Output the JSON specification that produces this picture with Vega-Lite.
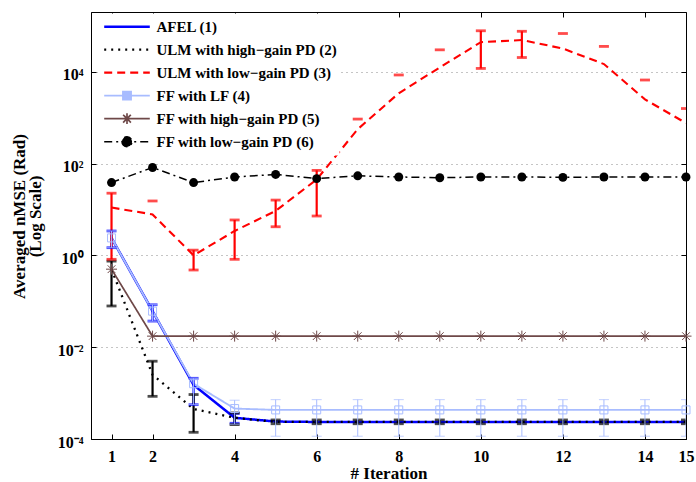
{
  "$schema": "https://vega.github.io/schema/vega-lite/v6.json",
  "width": 595,
  "height": 427,
  "autosize": {"type": "none"},
  "padding": {"left": 91, "top": 12, "right": 10, "bottom": 43},
  "background": "white",
  "config": {
    "font": "Liberation Serif",
    "view": {"stroke": "black", "strokeWidth": 1},
    "axis": {"labelFont": "Liberation Serif", "titleFont": "Liberation Serif", "labelColor": "black", "titleColor": "black", "tickColor": "black", "domainColor": "black"}
  },
  "datasets": {
    "lines": [
      {"s": "AFEL (1)", "x": 1, "y": 2.4}, {"s": "AFEL (1)", "x": 2, "y": 0.061}, {"s": "AFEL (1)", "x": 3, "y": 0.0015}, {"s": "AFEL (1)", "x": 4, "y": 0.00029},
      {"s": "AFEL (1)", "x": 5, "y": 0.00024}, {"s": "AFEL (1)", "x": 6, "y": 0.000235}, {"s": "AFEL (1)", "x": 7, "y": 0.000235}, {"s": "AFEL (1)", "x": 8, "y": 0.000235},
      {"s": "AFEL (1)", "x": 9, "y": 0.000235}, {"s": "AFEL (1)", "x": 10, "y": 0.000235}, {"s": "AFEL (1)", "x": 11, "y": 0.000235}, {"s": "AFEL (1)", "x": 12, "y": 0.000235},
      {"s": "AFEL (1)", "x": 13, "y": 0.000235}, {"s": "AFEL (1)", "x": 14, "y": 0.000235}, {"s": "AFEL (1)", "x": 15, "y": 0.000235},
      {"s": "ULM with high−gain PD (2)", "x": 1, "y": 0.5}, {"s": "ULM with high−gain PD (2)", "x": 2, "y": 0.0025}, {"s": "ULM with high−gain PD (2)", "x": 3, "y": 0.00045}, {"s": "ULM with high−gain PD (2)", "x": 4, "y": 0.00029},
      {"s": "ULM with high−gain PD (2)", "x": 5, "y": 0.000235}, {"s": "ULM with high−gain PD (2)", "x": 6, "y": 0.000235}, {"s": "ULM with high−gain PD (2)", "x": 7, "y": 0.000235}, {"s": "ULM with high−gain PD (2)", "x": 8, "y": 0.000235},
      {"s": "ULM with high−gain PD (2)", "x": 9, "y": 0.000235}, {"s": "ULM with high−gain PD (2)", "x": 10, "y": 0.000235}, {"s": "ULM with high−gain PD (2)", "x": 11, "y": 0.000235}, {"s": "ULM with high−gain PD (2)", "x": 12, "y": 0.000235},
      {"s": "ULM with high−gain PD (2)", "x": 13, "y": 0.000235}, {"s": "ULM with high−gain PD (2)", "x": 14, "y": 0.000235}, {"s": "ULM with high−gain PD (2)", "x": 15, "y": 0.000235},
      {"s": "ULM with low−gain PD (3)", "x": 1, "y": 11}, {"s": "ULM with low−gain PD (3)", "x": 2, "y": 7.8}, {"s": "ULM with low−gain PD (3)", "x": 3, "y": 1.0}, {"s": "ULM with low−gain PD (3)", "x": 4, "y": 3.4},
      {"s": "ULM with low−gain PD (3)", "x": 5, "y": 9.3}, {"s": "ULM with low−gain PD (3)", "x": 6, "y": 45}, {"s": "ULM with low−gain PD (3)", "x": 7, "y": 560}, {"s": "ULM with low−gain PD (3)", "x": 8, "y": 3400},
      {"s": "ULM with low−gain PD (3)", "x": 9, "y": 12400}, {"s": "ULM with low−gain PD (3)", "x": 10, "y": 44000}, {"s": "ULM with low−gain PD (3)", "x": 11, "y": 49000}, {"s": "ULM with low−gain PD (3)", "x": 12, "y": 32000},
      {"s": "ULM with low−gain PD (3)", "x": 13, "y": 14700}, {"s": "ULM with low−gain PD (3)", "x": 14, "y": 2500}, {"s": "ULM with low−gain PD (3)", "x": 15, "y": 760},
      {"s": "FF with LF (4)", "x": 1, "y": 2.4}, {"s": "FF with LF (4)", "x": 2, "y": 0.061}, {"s": "FF with LF (4)", "x": 3, "y": 0.0016}, {"s": "FF with LF (4)", "x": 4, "y": 0.00046},
      {"s": "FF with LF (4)", "x": 5, "y": 0.00043}, {"s": "FF with LF (4)", "x": 6, "y": 0.00043}, {"s": "FF with LF (4)", "x": 7, "y": 0.00043}, {"s": "FF with LF (4)", "x": 8, "y": 0.00043},
      {"s": "FF with LF (4)", "x": 9, "y": 0.00043}, {"s": "FF with LF (4)", "x": 10, "y": 0.00043}, {"s": "FF with LF (4)", "x": 11, "y": 0.00043}, {"s": "FF with LF (4)", "x": 12, "y": 0.00043},
      {"s": "FF with LF (4)", "x": 13, "y": 0.00043}, {"s": "FF with LF (4)", "x": 14, "y": 0.00043}, {"s": "FF with LF (4)", "x": 15, "y": 0.00043},
      {"s": "FF with high−gain PD (5)", "x": 1, "y": 0.5}, {"s": "FF with high−gain PD (5)", "x": 2, "y": 0.0174}, {"s": "FF with high−gain PD (5)", "x": 3, "y": 0.0174}, {"s": "FF with high−gain PD (5)", "x": 4, "y": 0.0174},
      {"s": "FF with high−gain PD (5)", "x": 5, "y": 0.0174}, {"s": "FF with high−gain PD (5)", "x": 6, "y": 0.0174}, {"s": "FF with high−gain PD (5)", "x": 7, "y": 0.0174}, {"s": "FF with high−gain PD (5)", "x": 8, "y": 0.0174},
      {"s": "FF with high−gain PD (5)", "x": 9, "y": 0.0174}, {"s": "FF with high−gain PD (5)", "x": 10, "y": 0.0174}, {"s": "FF with high−gain PD (5)", "x": 11, "y": 0.0174}, {"s": "FF with high−gain PD (5)", "x": 12, "y": 0.0174},
      {"s": "FF with high−gain PD (5)", "x": 13, "y": 0.0174}, {"s": "FF with high−gain PD (5)", "x": 14, "y": 0.0174}, {"s": "FF with high−gain PD (5)", "x": 15, "y": 0.0174},
      {"s": "FF with low−gain PD (6)", "x": 1, "y": 38.5}, {"s": "FF with low−gain PD (6)", "x": 2, "y": 82}, {"s": "FF with low−gain PD (6)", "x": 3, "y": 38.5}, {"s": "FF with low−gain PD (6)", "x": 4, "y": 51},
      {"s": "FF with low−gain PD (6)", "x": 5, "y": 58}, {"s": "FF with low−gain PD (6)", "x": 6, "y": 47}, {"s": "FF with low−gain PD (6)", "x": 7, "y": 54}, {"s": "FF with low−gain PD (6)", "x": 8, "y": 51},
      {"s": "FF with low−gain PD (6)", "x": 9, "y": 49}, {"s": "FF with low−gain PD (6)", "x": 10, "y": 51}, {"s": "FF with low−gain PD (6)", "x": 11, "y": 51}, {"s": "FF with low−gain PD (6)", "x": 12, "y": 50},
      {"s": "FF with low−gain PD (6)", "x": 13, "y": 51}, {"s": "FF with low−gain PD (6)", "x": 14, "y": 51}, {"s": "FF with low−gain PD (6)", "x": 15, "y": 51}
    ],
    "err": [
      {"s": "AFEL (1)", "x": 1, "lo": 1.47, "hi": 3.4}, {"s": "AFEL (1)", "x": 2, "lo": 0.037, "hi": 0.084}, {"s": "AFEL (1)", "x": 3, "lo": 0.00056, "hi": 0.0021}, {"s": "AFEL (1)", "x": 4, "lo": 0.00022, "hi": 0.00036},
      {"s": "ULM with high−gain PD (2)", "x": 1, "lo": 0.079, "hi": 0.75}, {"s": "ULM with high−gain PD (2)", "x": 2, "lo": 0.00085, "hi": 0.00495}, {"s": "ULM with high−gain PD (2)", "x": 3, "lo": 0.00014, "hi": 0.00093}, {"s": "ULM with high−gain PD (2)", "x": 4, "lo": 0.000206, "hi": 0.00037},
      {"s": "ULM with high−gain PD (2)", "x": 5, "lo": 0.000215, "hi": 0.00026}, {"s": "ULM with high−gain PD (2)", "x": 6, "lo": 0.000215, "hi": 0.00026}, {"s": "ULM with high−gain PD (2)", "x": 7, "lo": 0.000215, "hi": 0.00026}, {"s": "ULM with high−gain PD (2)", "x": 8, "lo": 0.000215, "hi": 0.00026},
      {"s": "ULM with high−gain PD (2)", "x": 9, "lo": 0.000215, "hi": 0.00026}, {"s": "ULM with high−gain PD (2)", "x": 10, "lo": 0.000215, "hi": 0.00026}, {"s": "ULM with high−gain PD (2)", "x": 11, "lo": 0.000215, "hi": 0.00026}, {"s": "ULM with high−gain PD (2)", "x": 12, "lo": 0.000215, "hi": 0.00026},
      {"s": "ULM with high−gain PD (2)", "x": 13, "lo": 0.000215, "hi": 0.00026}, {"s": "ULM with high−gain PD (2)", "x": 14, "lo": 0.000215, "hi": 0.00026}, {"s": "ULM with high−gain PD (2)", "x": 15, "lo": 0.000215, "hi": 0.00026},
      {"s": "ULM with low−gain PD (3)", "x": 1, "lo": 0.82, "hi": 22.6}, {"s": "ULM with low−gain PD (3)", "x": 2, "lo": null, "hi": 15.3}, {"s": "ULM with low−gain PD (3)", "x": 3, "lo": 0.48, "hi": 1.3}, {"s": "ULM with low−gain PD (3)", "x": 4, "lo": 0.82, "hi": 5.9},
      {"s": "ULM with low−gain PD (3)", "x": 5, "lo": 4.2, "hi": 16}, {"s": "ULM with low−gain PD (3)", "x": 6, "lo": 7.2, "hi": 71}, {"s": "ULM with low−gain PD (3)", "x": 7, "lo": null, "hi": 930}, {"s": "ULM with low−gain PD (3)", "x": 8, "lo": null, "hi": 8500},
      {"s": "ULM with low−gain PD (3)", "x": 9, "lo": null, "hi": 30000}, {"s": "ULM with low−gain PD (3)", "x": 10, "lo": 11800, "hi": 78000}, {"s": "ULM with low−gain PD (3)", "x": 11, "lo": 20400, "hi": 76000}, {"s": "ULM with low−gain PD (3)", "x": 12, "lo": null, "hi": 68000},
      {"s": "ULM with low−gain PD (3)", "x": 13, "lo": null, "hi": 35600}, {"s": "ULM with low−gain PD (3)", "x": 14, "lo": null, "hi": 6600}, {"s": "ULM with low−gain PD (3)", "x": 15, "lo": null, "hi": 1580}
    ],
    "errlf": [
      {"s": "FF with LF (4)", "x": 1, "lo": 1.47, "hi": 3.4}, {"s": "FF with LF (4)", "x": 2, "lo": 0.037, "hi": 0.084}, {"s": "FF with LF (4)", "x": 3, "lo": 0.00056, "hi": 0.0021}, {"s": "FF with LF (4)", "x": 4, "lo": 0.00021, "hi": 0.0007},
      {"s": "FF with LF (4)", "x": 5, "lo": 0.000115, "hi": 0.00072}, {"s": "FF with LF (4)", "x": 6, "lo": 0.000115, "hi": 0.00072}, {"s": "FF with LF (4)", "x": 7, "lo": 0.000115, "hi": 0.00072}, {"s": "FF with LF (4)", "x": 8, "lo": 0.000115, "hi": 0.00072},
      {"s": "FF with LF (4)", "x": 9, "lo": 0.000115, "hi": 0.00072}, {"s": "FF with LF (4)", "x": 10, "lo": 0.000115, "hi": 0.00072}, {"s": "FF with LF (4)", "x": 11, "lo": 0.000115, "hi": 0.00072}, {"s": "FF with LF (4)", "x": 12, "lo": 0.000115, "hi": 0.00072},
      {"s": "FF with LF (4)", "x": 13, "lo": 0.000115, "hi": 0.00072}, {"s": "FF with LF (4)", "x": 14, "lo": 0.000115, "hi": 0.00072}, {"s": "FF with LF (4)", "x": 15, "lo": 0.000115, "hi": 0.00072}
    ]
  },
  "resolve": {"axis": {"x": "independent", "y": "independent"}},
  "layer": [
    {
      "data": {"name": "lines"},
      "mark": {"type": "point", "opacity": 0},
      "encoding": {
        "x": {"field": "x", "type": "quantitative", "scale": {"domain": [0.5, 15], "nice": false, "zero": false},
          "axis": {"orient": "bottom", "values": [1, 2, 4, 6, 8, 10, 12, 14, 15], "grid": false, "tickSize": -5, "labelPadding": 14, "labelFlush": false, "labelOverlap": false, "labelFontSize": 16, "labelFontWeight": "bold", "title": "# Iteration", "titleFontSize": 17, "titleFontWeight": "bold", "titlePadding": 1, "domain": true}},
        "y": {"field": "y", "type": "quantitative", "scale": {"type": "log", "domain": [0.0001, 200000], "nice": false},
          "axis": {"orient": "left", "values": [0.0001, 0.01, 1, 100, 10000], "grid": true, "gridDash": [1, 4], "gridColor": "#8a8a8a", "gridWidth": 1, "tickSize": -5, "labelPadding": 13, "labelFontSize": 16, "labelFontWeight": "bold", "labelBaseline": "middle", "labelOffset": 3,
            "labelExpr": "datum.value >= 5000 ? '10⁴' : datum.value >= 50 ? '10²' : datum.value >= 0.5 ? '10⁰' : datum.value >= 0.005 ? '10⁻²' : '10⁻⁴'",
            "title": ["Averaged nMSE (Rad)", "(Log Scale)"], "titleFontSize": 17, "titleFontWeight": "bold", "titleAngle": -90, "titleX": -80, "titleY": 204, "titleAlign": "center", "titleBaseline": "top", "titleLineHeight": 16}}
      }
    },
    {
      "data": {"name": "lines"},
      "mark": {"type": "point", "opacity": 0},
      "encoding": {
        "x": {"field": "x", "type": "quantitative", "scale": {"domain": [0.5, 15], "nice": false, "zero": false},
          "axis": {"orient": "top", "values": [1, 2, 4, 6, 8, 10, 12, 14, 15], "grid": false, "tickSize": -5, "labels": false, "domain": false, "title": null}},
        "y": {"field": "y", "type": "quantitative", "scale": {"type": "log", "domain": [0.0001, 200000], "nice": false},
          "axis": {"orient": "right", "values": [0.0001, 0.01, 1, 100, 10000], "grid": false, "tickSize": -5, "labels": false, "domain": false, "title": null}}
      }
    },
    {
      "data": {"name": "lines"},
      "mark": {"type": "line", "clip": true},
      "encoding": {
        "x": {"field": "x", "type": "quantitative", "scale": {"domain": [0.5, 15], "nice": false, "zero": false}, "axis": null},
        "y": {"field": "y", "type": "quantitative", "scale": {"type": "log", "domain": [0.0001, 200000], "nice": false}, "axis": null},
        "color": {"field": "s", "type": "nominal",
          "scale": {"domain": ["AFEL (1)", "ULM with high−gain PD (2)", "ULM with low−gain PD (3)", "FF with LF (4)", "FF with high−gain PD (5)", "FF with low−gain PD (6)"],
                    "range": ["#0000ff", "#000000", "#ff0000", "#a8bcff", "#6e4848", "#000000"]},
          "legend": {"title": null, "orient": "none", "legendX": 9.5, "legendY": 1.5, "padding": 2, "fillColor": "white", "strokeColor": null,
            "symbolSize": 2079, "clipHeight": 22.3, "rowPadding": 0, "labelOffset": 5,
            "labelFont": "Liberation Serif", "labelFontSize": 15, "labelFontWeight": "bold", "labelColor": "black", "labelLimit": 400,
            "encode": {"symbols": {"update": {
              "shape": {"signal": "['M-1,0L1,0','M-1,0L1,0','M-1,0L1,0','M-1,0L-0.175,0M0.175,0L1,0M-0.175,-0.175L0.175,-0.175L0.175,0.175L-0.175,0.175Z','M-1,0L1,0M0,-0.24L0,0.24M-0.17,-0.17L0.17,0.17M-0.17,0.17L0.17,-0.17','M-1,0L1,0M-0.22,0A0.22,0.22,0,1,0,0.22,0A0.22,0.22,0,1,0,-0.22,0Z'][datum.index]"},
              "strokeDash": {"signal": "[[1,0],[2,5],[8,5],[1,0],[1,0],[8,4,2,4]][datum.index]"},
              "strokeWidth": {"signal": "[2.5,1.5,2.5,1,1,1][datum.index]"},
              "fill": {"signal": "datum.index == 5 ? 'black' : datum.index == 3 ? 'white' : 'transparent'"},
              "fillOpacity": {"value": 1},
              "opacity": {"value": 1}
            }}}}},
        "strokeDash": {"field": "s", "type": "nominal", "legend": null,
          "scale": {"domain": ["AFEL (1)", "ULM with high−gain PD (2)", "ULM with low−gain PD (3)", "FF with LF (4)", "FF with high−gain PD (5)", "FF with low−gain PD (6)"],
                    "range": [[1, 0], [2, 5], [8, 5], [1, 0], [1, 0], [8, 4, 2, 4]]}},
        "strokeWidth": {"field": "s", "type": "ordinal", "legend": null,
          "scale": {"domain": ["AFEL (1)", "ULM with high−gain PD (2)", "ULM with low−gain PD (3)", "FF with LF (4)", "FF with high−gain PD (5)", "FF with low−gain PD (6)"],
                    "range": [2.5, 1.5, 2.5, 1, 1, 1]}}
      }
    },
    {
      "data": {"name": "err"},
      "transform": [{"filter": "isValid(datum.lo)"}],
      "mark": {"type": "rule", "strokeWidth": 2.2, "clip": true},
      "encoding": {
        "x": {"field": "x", "type": "quantitative", "scale": {"domain": [0.5, 15], "nice": false, "zero": false}, "axis": null},
        "y": {"field": "lo", "type": "quantitative", "scale": {"type": "log", "domain": [0.0001, 200000], "nice": false}, "axis": null},
        "y2": {"field": "hi"},
        "color": {"field": "s", "type": "nominal"}
      }
    },
    {
      "data": {"name": "err"},
      "mark": {"type": "tick", "orient": "horizontal", "size": 10, "thickness": 2.8, "clip": true},
      "encoding": {
        "x": {"field": "x", "type": "quantitative", "scale": {"domain": [0.5, 15], "nice": false, "zero": false}, "axis": null},
        "y": {"field": "hi", "type": "quantitative", "scale": {"type": "log", "domain": [0.0001, 200000], "nice": false}, "axis": null},
        "color": {"field": "s", "type": "nominal"}
      }
    },
    {
      "data": {"name": "err"},
      "transform": [{"filter": "isValid(datum.lo)"}],
      "mark": {"type": "tick", "orient": "horizontal", "size": 10, "thickness": 2.8, "clip": true},
      "encoding": {
        "x": {"field": "x", "type": "quantitative", "scale": {"domain": [0.5, 15], "nice": false, "zero": false}, "axis": null},
        "y": {"field": "lo", "type": "quantitative", "scale": {"type": "log", "domain": [0.0001, 200000], "nice": false}, "axis": null},
        "color": {"field": "s", "type": "nominal"}
      }
    },
    {
      "data": {"name": "errlf"},
      "mark": {"type": "rule", "strokeWidth": 1, "clip": true, "color": "#a8bcff"},
      "encoding": {
        "x": {"field": "x", "type": "quantitative", "scale": {"domain": [0.5, 15], "nice": false, "zero": false}, "axis": null},
        "y": {"field": "lo", "type": "quantitative", "scale": {"type": "log", "domain": [0.0001, 200000], "nice": false}, "axis": null},
        "y2": {"field": "hi"}
      }
    },
    {
      "data": {"name": "errlf"},
      "mark": {"type": "tick", "orient": "horizontal", "size": 10, "thickness": 1, "clip": true, "color": "#a8bcff"},
      "encoding": {
        "x": {"field": "x", "type": "quantitative", "scale": {"domain": [0.5, 15], "nice": false, "zero": false}, "axis": null},
        "y": {"field": "hi", "type": "quantitative", "scale": {"type": "log", "domain": [0.0001, 200000], "nice": false}, "axis": null}
      }
    },
    {
      "data": {"name": "errlf"},
      "mark": {"type": "tick", "orient": "horizontal", "size": 10, "thickness": 1, "clip": true, "color": "#a8bcff"},
      "encoding": {
        "x": {"field": "x", "type": "quantitative", "scale": {"domain": [0.5, 15], "nice": false, "zero": false}, "axis": null},
        "y": {"field": "lo", "type": "quantitative", "scale": {"type": "log", "domain": [0.0001, 200000], "nice": false}, "axis": null}
      }
    },
    {
      "data": {"name": "lines"},
      "transform": [{"filter": "datum.s == 'FF with LF (4)'"}],
      "mark": {"type": "point", "shape": "square", "size": 64, "filled": false, "stroke": "#a8bcff", "strokeWidth": 1, "opacity": 1},
      "encoding": {
        "x": {"field": "x", "type": "quantitative", "scale": {"domain": [0.5, 15], "nice": false, "zero": false}, "axis": null},
        "y": {"field": "y", "type": "quantitative", "scale": {"type": "log", "domain": [0.0001, 200000], "nice": false}, "axis": null}
      }
    },
    {
      "data": {"name": "lines"},
      "transform": [{"filter": "datum.s == 'FF with high−gain PD (5)'"}],
      "mark": {"type": "point", "shape": "M-1,0L1,0M0,-1L0,1M-0.7,-0.7L0.7,0.7M-0.7,0.7L0.7,-0.7", "size": 121, "filled": false, "stroke": "#6e4848", "strokeWidth": 1, "opacity": 1},
      "encoding": {
        "x": {"field": "x", "type": "quantitative", "scale": {"domain": [0.5, 15], "nice": false, "zero": false}, "axis": null},
        "y": {"field": "y", "type": "quantitative", "scale": {"type": "log", "domain": [0.0001, 200000], "nice": false}, "axis": null}
      }
    },
    {
      "data": {"name": "lines"},
      "transform": [{"filter": "datum.s == 'FF with low−gain PD (6)'"}],
      "mark": {"type": "point", "shape": "circle", "size": 80, "filled": true, "fill": "black", "opacity": 1},
      "encoding": {
        "x": {"field": "x", "type": "quantitative", "scale": {"domain": [0.5, 15], "nice": false, "zero": false}, "axis": null},
        "y": {"field": "y", "type": "quantitative", "scale": {"type": "log", "domain": [0.0001, 200000], "nice": false}, "axis": null}
      }
    }
  ]
}
